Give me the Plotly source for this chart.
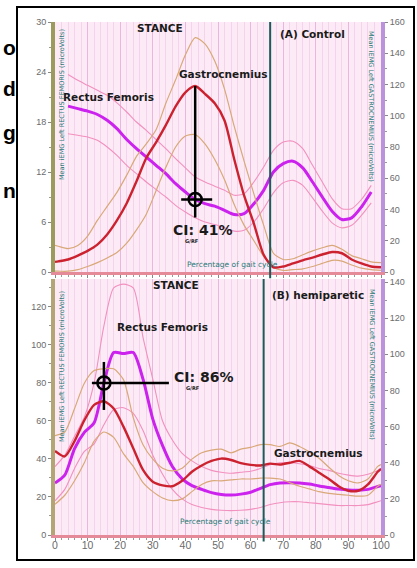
import plotly.graph_objects as go

W, H = 417, 568


def px(x):
    return x / W


def py(y):
    return 1 - y / H


# ---------------- (A) Control ----------------
pct_a = [0, 1, 4, 7, 10, 13, 16, 19, 22, 25, 28, 31, 34, 37, 40, 43, 46, 49, 52, 55,
         58, 61, 64, 67, 70, 73, 76, 79, 82, 85, 88, 91, 94, 97, 100]

# Gastrocnemius (right axis, microVolts)
gas_a_mean = [6.5, 6.8, 8, 10.5, 13.5, 17.5, 24, 33, 44, 58, 73, 83, 94, 106, 115, 119, 114, 108, 97, 72,
              49, 31, 11, 3, 3.5, 5.5, 7.5, 9.2, 11.2, 12.8, 12, 8, 5.5, 3.5, 3]
gas_a_hi = [17, 16.5, 15, 17, 23, 33, 42, 51, 62, 74, 82, 91, 108, 123, 139, 150, 146, 135, 117, 93,
            71, 50, 30, 12, 8, 8.5, 11, 13.5, 15.5, 17, 14.5, 10.5, 8.5, 6.5, 6]
gas_a_lo = [0.5, 0.5, 0.5, 1.5, 3.5, 6, 9, 12.5, 18.5, 27, 37, 52, 67, 80, 87, 88, 82, 72, 59, 43,
            30, 20, 10, 3, 1, 1.5, 2, 3.5, 5.5, 7.5, 7, 4.5, 2.5, 1.5, 1]

# Rectus femoris (left axis, microVolts)
rf_a_mean = [None, None, 19.9, 19.6, 19.3, 18.9, 18.2, 17.2, 15.9, 14.8, 13.8, 12.8, 11.8, 10.6, 9.6, 8.7,
             8.2, 7.9, 7.4, 6.9, 7.0, 8.2, 9.8, 12.0, 13.0, 13.3, 12.5, 10.8, 9.0, 7.3, 6.3, 6.5, 7.8, 9.6, None]
rf_a_hi = [None, None, 23.7, 23.0, 22.4, 21.8, 21.2, 20.3, 19.2, 18.0, 17.0, 15.9, 14.8, 13.6, 12.5, 11.4,
           10.8, 10.3, 9.8, 9.2, 9.4, 10.8, 12.6, 14.6, 15.6, 15.7, 14.8, 12.8, 10.8, 8.8, 7.6, 7.6, 8.7, 10.4, None]
rf_a_lo = [None, None, 16.6, 16.4, 16.2, 15.8, 15.0, 14.0, 12.8, 11.8, 10.8, 9.9, 9.0, 8.0, 7.2, 6.5,
           6.0, 5.7, 5.3, 4.9, 5.0, 6.0, 7.6, 9.5, 10.7, 11.0, 10.4, 8.9, 7.3, 5.9, 5.3, 5.6, 6.8, 8.3, None]

stance_a = 66
ci_a = "41%"

# ---------------- (B) hemiparetic ----------------
pct_b = [0, 3, 6, 9, 12, 15, 18, 21, 24, 27, 30, 33, 36, 39, 42, 45, 48, 51, 54, 57,
         60, 63, 66, 69, 72, 75, 78, 81, 84, 87, 90, 93, 96, 99, 100]

gas_b_mean = [46.5, 43.5, 52, 63.5, 72, 74, 70, 60, 48, 36, 29.5, 27.5, 27, 30, 35, 38.5, 41, 42.3, 41.5, 39.8,
              38.8, 38.5, 39.5, 39, 40, 41, 38, 34.5, 31, 27, 24.5, 24.5, 28, 35, 36.5]
gas_b_hi = [55, 57, 70, 84, 91, 92, 92, 86, 65, 50, 42, 37, 35.5, 37, 42, 45.5, 47, 47.5, 45.5, 47.5,
            48.5, 50, 50, 49, 51, 49, 46, 42.5, 37.5, 33, 30, 28.8, 31, 38, 39]
gas_b_lo = [17, 22, 30, 40, 52, 57, 54, 45, 38, 29, 24, 20.5, 19, 20, 24, 28, 30, 30, 30.5, 31,
            31, 31.5, 31.5, 31, 29, 27, 25.5, 24, 23, 22.5, 22, 21.5, 22, 27, 28]

rf_b_mean = [27.4, 31.5, 45.5, 54, 59, 80, 96, 95.5, 96, 82, 61, 47, 36, 29.5, 26, 24, 22.3, 21.3, 21, 21.5,
             22.5, 24.5, 26.5, 27.4, 27.5, 27.4, 26.8, 25.8, 25, 24.2, 23.7, 23.6, 24, 25.5, 26]
rf_b_hi = [36, 42, 52, 62, 80, 110, 130, 132, 130, 104, 82, 60, 50, 43, 39, 36, 34, 33, 32.5, 33,
           33.5, 35, 37, 38, 38, 37.5, 36.5, 35, 34, 32.5, 31.5, 31, 32, 34, 35]
rf_b_lo = [18, 24, 35, 44, 48, 58, 66, 67, 64, 55, 42, 32, 24, 19, 16, 14.5, 13.5, 13, 12.8, 13,
           13.5, 14.5, 16, 17, 17.5, 17.5, 17, 16.5, 16, 15.5, 15.5, 15.5, 16, 17.5, 18]

stance_b = 64
ci_b = "86%"

x_ticks = [0, 10, 20, 30, 40, 50, 60, 70, 80, 90, 100]

# axis ranges
ya_left = [0, 30]
ya_right = [0, 160]
yb_left = [0, 134.7]
yb_right = [0, 141.7]

# pixel layout of the two panels
X0, X1 = 55, 381
TA0, TA1 = 22, 272
TB0, TB1 = 279, 535

C_RF = "#cc22ee"
C_RF_SD = "#f290bf"
C_G = "#cc2230"
C_G_SD = "#d9a878"
TEAL = "#2b7a78"
STANCE_C = "#1f5a5a"
BOLD = "DejaVu Sans"

fig = go.Figure()


def add(x, y, xa, ya, color, width):
    fig.add_trace(go.Scatter(x=x, y=y, xaxis=xa, yaxis=ya, mode="lines",
                             line=dict(color=color, width=width, shape="spline", smoothing=0.7),
                             hoverinfo="skip", showlegend=False))


# panel A
add(pct_a, gas_a_hi, "x", "y2", C_G_SD, 1.2)
add(pct_a, gas_a_lo, "x", "y2", C_G_SD, 1.2)
add(pct_a, rf_a_hi, "x", "y", C_RF_SD, 1.1)
add(pct_a, rf_a_lo, "x", "y", C_RF_SD, 1.1)
add(pct_a, gas_a_mean, "x", "y2", C_G, 2.4)
add(pct_a, rf_a_mean, "x", "y", C_RF, 3)
# panel B
add(pct_b, gas_b_hi, "x2", "y4", C_G_SD, 1.2)
add(pct_b, gas_b_lo, "x2", "y4", C_G_SD, 1.2)
add(pct_b, rf_b_hi, "x2", "y3", C_RF_SD, 1.1)
add(pct_b, rf_b_lo, "x2", "y3", C_RF_SD, 1.1)
add(pct_b, gas_b_mean, "x2", "y4", C_G, 2.4)
add(pct_b, rf_b_mean, "x2", "y3", C_RF, 3)

tick_font = dict(family="Liberation Sans, Arial", size=9, color="#6b6b6b")
xtick_font = dict(family="Liberation Sans, Arial", size=10.5, color="#6b6b6b")


def xaxis(anchor, labels):
    return dict(domain=[px(X0), px(X1)], anchor=anchor, range=[0, 100], automargin=False,
                tickvals=x_ticks, showticklabels=labels, tickfont=xtick_font,
                ticks="outside", ticklen=3, tickcolor="#888888", ticklabelstandoff=-5,
                showline=True, linecolor="#e58a98", linewidth=3,
                showgrid=True, gridcolor="#e9b6dd", gridwidth=1,
                minor=dict(dtick=2, showgrid=True, gridcolor="#f5d3ea", gridwidth=1,
                           ticks="outside", ticklen=2, tickcolor="#999999"),
                zeroline=False, fixedrange=True)


def yaxis(dom, rng, dtick, minor, anchor, side, linecolor, overlay=None):
    d = dict(domain=dom, range=rng, anchor=anchor, side=side, dtick=dtick, automargin=False,
             tickfont=tick_font, ticks="outside", ticklen=3, tickcolor="#888888",
             showline=True, linecolor=linecolor, linewidth=4,
             showgrid=False, zeroline=False, fixedrange=True,
             minor=dict(dtick=minor, ticks="outside", ticklen=2, tickcolor="#999999"))
    if overlay:
        d["overlaying"] = overlay
    return d


dom_a = [py(TA1), py(TA0)]
dom_b = [py(TB1), py(TB0)]

fig.update_layout(
    width=W, height=H, margin=dict(l=0, r=0, t=0, b=0, autoexpand=False),
    paper_bgcolor="white", plot_bgcolor="#fcebf6",
    showlegend=False,
    xaxis=xaxis("y", False),
    xaxis2=xaxis("y3", True),
    yaxis=yaxis(dom_a, ya_left, 6, 3, "x", "left", "#9d9a5e"),
    yaxis2=yaxis(dom_a, ya_right, 20, 10, "x", "right", "#bb92dc", "y"),
    yaxis3=yaxis(dom_b, yb_left, 20, 10, "x2", "left", "#b3a574"),
    yaxis4=yaxis(dom_b, yb_right, 20, 10, "x2", "right", "#bb92dc", "y3"),
)

shapes = []
# outer frame
shapes.append(dict(type="rect", xref="paper", yref="paper", x0=px(17), x1=px(414),
                   y0=py(560), y1=py(7), line=dict(color="black", width=2)))
# stance / swing boundary
shapes.append(dict(type="line", xref="x", yref="y domain", x0=stance_a, x1=stance_a,
                   y0=-0.025, y1=1, line=dict(color=STANCE_C, width=2)))
shapes.append(dict(type="line", xref="x2", yref="y3 domain", x0=stance_b, x1=stance_b,
                   y0=-0.025, y1=1, line=dict(color=STANCE_C, width=2)))

# co-activation crosshair, panel A: at gastrocnemius peak, on the RF curve
ia = gas_a_mean.index(max(gas_a_mean))
cx_a, cy_a = pct_a[ia], rf_a_mean[ia]
peak_a_left = gas_a_mean[ia] * (ya_left[1] / ya_right[1])
ppu_a = (TA1 - TA0) / ya_left[1]
shapes.append(dict(type="line", xref="x", yref="y", x0=cx_a, x1=cx_a,
                   y0=cy_a - 18 / ppu_a, y1=peak_a_left, line=dict(color="black", width=2.5)))
shapes.append(dict(type="line", xref="x", yref="y", xsizemode="pixel", xanchor=cx_a,
                   x0=-14, x1=17, y0=cy_a, y1=cy_a, line=dict(color="black", width=2.5)))
shapes.append(dict(type="circle", xref="x", yref="y", xsizemode="pixel", ysizemode="pixel",
                   xanchor=cx_a, yanchor=cy_a, x0=-6.5, x1=6.5, y0=-6.5, y1=6.5,
                   line=dict(color="black", width=2.5)))

# panel B
ib = gas_b_mean.index(max(gas_b_mean))
cx_b, cy_b = pct_b[ib], rf_b_mean[ib]
shapes.append(dict(type="line", xref="x2", yref="y3", ysizemode="pixel", yanchor=cy_b,
                   x0=cx_b, x1=cx_b, y0=-27, y1=21, line=dict(color="black", width=2.5)))
shapes.append(dict(type="line", xref="x2", yref="y3", xsizemode="pixel", xanchor=cx_b,
                   x0=-12, x1=65, y0=cy_b, y1=cy_b, line=dict(color="black", width=2.5)))
shapes.append(dict(type="circle", xref="x2", yref="y3", xsizemode="pixel", ysizemode="pixel",
                   xanchor=cx_b, yanchor=cy_b, x0=-6.5, x1=6.5, y0=-6.5, y1=6.5,
                   line=dict(color="black", width=2.5)))

fig.update_layout(shapes=shapes)

ann = []


def text(x, y, s, size, color="#1a1a1a", bold=True, xanchor="center", angle=0, family=BOLD):
    ann.append(dict(xref="paper", yref="paper", x=px(x), y=py(y), text=(f"<b>{s}</b>" if bold else s),
                    showarrow=False, xanchor=xanchor, yanchor="middle", textangle=angle,
                    font=dict(family=family, size=size, color=color)))


# panel A labels
text(160, 28, "STANCE", 10.5)
text(278, 34, "(A) Control", 10.5, xanchor="left")
text(223, 74, "Gastrocnemius", 10.5)
text(108, 97, "Rectus Femoris", 10.5)
text(171, 230, f"CI: {ci_a}", 14, xanchor="left")
text(183, 241, "G/RF", 5, xanchor="left")
text(185, 264, "Percentage of gait cycle", 7.5, color=TEAL, bold=False, xanchor="left")
text(62, 105, "Mean iEMG Left RECTUS FEMORIS (microVolts)", 6.5, color=TEAL, bold=False, angle=-90)
text(371, 106, "Mean iEMG Left GASTROCNEMIUS (microVolts)", 6.5, color=TEAL, bold=False, angle=90)

# panel B labels
text(176, 285, "STANCE", 10.5)
text(270, 295, "(B) hemiparetic", 10.5, xanchor="left")
text(162, 327, "Rectus Femoris", 10.5)
text(172, 377, f"CI: {ci_b}", 14, xanchor="left")
text(184, 388, "G/RF", 5, xanchor="left")
text(318, 453, "Gastrocnemius", 10.5)
text(178, 521, "Percentage of gait cycle", 7.5, color=TEAL, bold=False, xanchor="left")
text(62, 367, "Mean iEMG Left RECTUS FEMORIS (microVolts)", 6.5, color=TEAL, bold=False, angle=-90)
text(372, 364, "Mean iEMG Left GASTROCNEMIUS (microVolts)", 6.5, color=TEAL, bold=False, angle=90)

# running text of the surrounding page, at the left margin
for ch, yy in [("o", 47), ("d", 88), ("g", 133), ("n", 190)]:
    text(1, yy, ch, 21, color="black", xanchor="left", family="Liberation Sans, Arial")

fig.update_layout(annotations=ann)

fig.write_html("out.html")
